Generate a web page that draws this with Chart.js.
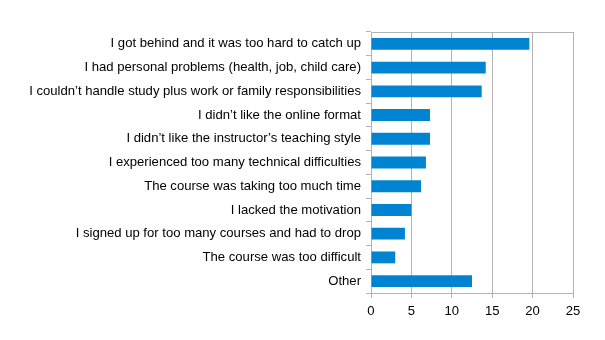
<!DOCTYPE html>
<html>
<head>
<meta charset="utf-8">
<script src="https://cdn.jsdelivr.net/npm/chart.js@4"></script>
<style>
  html, body { margin: 0; padding: 0; background: #fff; }
  #wrap { width: 605px; height: 340px; }
</style>
</head>
<body>
<div id="wrap"><canvas id="myChart" width="605" height="340"></canvas></div>
<script>
var reasons = [
    'I got behind and it was too hard to catch up',
    'I had personal problems (health, job, child care)',
    'I couldn\u2019t handle study plus work or family responsibilities',
    'I didn\u2019t like the online format',
    'I didn\u2019t like the instructor\u2019s teaching style',
    'I experienced too many technical difficulties',
    'The course was taking too much time',
    'I lacked the motivation',
    'I signed up for too many courses and had to drop',
    'The course was too difficult',
    'Other'
];
var counts = [19.6, 14.2, 13.7, 7.3, 7.3, 6.8, 6.2, 5.0, 4.2, 3.0, 12.5];
var xTicks = [0, 5, 10, 15, 20, 25];

var gridGray = '#b3b3b3';

var ctx = document.getElementById('myChart').getContext('2d');
var myChart = new Chart(ctx, {
    type: 'bar',
    data: {
        labels: reasons,
        datasets: [{
            data: counts,
            backgroundColor: '#0084d1',
            categoryPercentage: 1,
            barPercentage: 0.5
        }]
    },
    options: {
        indexAxis: 'y',
        responsive: false,
        animation: false,
        layout: {
            padding: { left: 0, top: 32, right: 32, bottom: 0 }
        },
        plugins: {
            legend: { display: false },
            tooltip: { enabled: false }
        },
        scales: {
            x: {
                min: 0,
                max: 25,
                afterBuildTicks: function (scale) {
                    scale.ticks = xTicks.map(function (v) { return { value: v }; });
                },
                afterFit: function (scale) { scale.height = 47; },
                grid: {
                    color: gridGray,
                    tickColor: gridGray,
                    tickLength: 5,
                    lineWidth: 1
                },
                border: { color: gridGray },
                ticks: {
                    color: '#000',
                    padding: 6,
                    font: { family: 'Liberation Sans', size: 13.1 }
                }
            },
            // top edge of the plot frame
            xTop: {
                position: 'top',
                min: 0,
                max: 25,
                afterFit: function (scale) { scale.height = 0; },
                grid: { display: false, drawTicks: false },
                border: { display: true, color: gridGray },
                ticks: { display: false }
            },
            y: {
                afterFit: function (scale) { scale.width = 371; },
                grid: {
                    offset: true,
                    color: 'rgba(0,0,0,0)',
                    tickColor: gridGray,
                    tickLength: 5
                },
                border: { color: gridGray },
                ticks: {
                    color: '#000',
                    padding: 5,
                    autoSkip: false,
                    font: { family: 'Liberation Sans', size: 13.1 }
                }
            }
        }
    }
});
</script>
</body>
</html>
